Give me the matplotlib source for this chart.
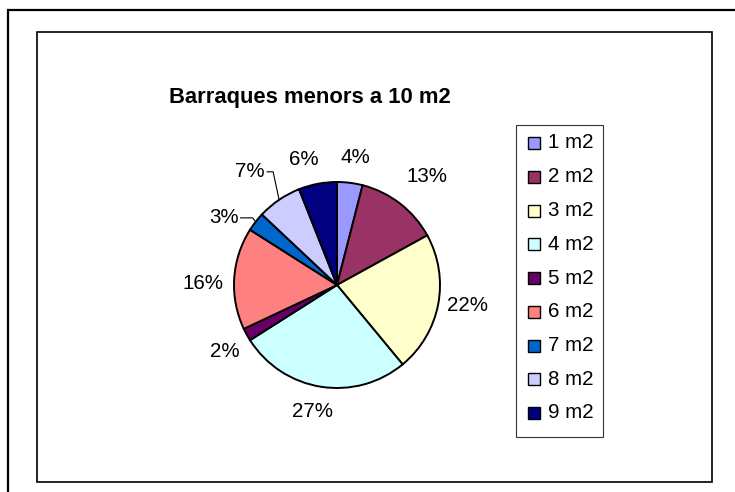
import numpy as np
import matplotlib
matplotlib.use("Agg")
import matplotlib.pyplot as plt
from matplotlib.patches import Rectangle

# ---- data ----
categories = ["1 m2", "2 m2", "3 m2", "4 m2", "5 m2", "6 m2", "7 m2", "8 m2", "9 m2"]
values = [4, 13, 22, 27, 2, 16, 3, 7, 6]
pct_labels = ["4%", "13%", "22%", "27%", "2%", "16%", "3%", "7%", "6%"]
title = "Barraques menors a 10 m2"

# ---- style ----
colors = ["#9999FF", "#993366", "#FFFFCC", "#CCFFFF", "#660066",
          "#FF8080", "#0066CC", "#CCCCFF", "#000080"]
label_dist = [1.25, 1.37, 1.28, 1.25, 1.27, 1.30, 1.30, 1.41, 1.26]
label_dang = [1, 2, -2, 2, -2, -3, -8, -5, -4]   # degrees, clockwise
leaders = {6: (4, 3, 12), 7: (28, 6, 6)}        # rise px, elbow dx, horizontal length

W, H = 735, 492
plt.rcParams['font.family'] = ['Liberation Sans', 'DejaVu Sans']
fig = plt.figure(figsize=(W / 100, H / 100), dpi=100)
ax = fig.add_axes([0, 0, 1, 1])


def Y(y):  # pixel-from-top -> data
    return H - y


cx, cy, R = 337, 285, 103
wedges, _ = ax.pie(values, colors=colors, startangle=90, counterclock=False,
                   center=(cx, Y(cy)), radius=R,
                   wedgeprops=dict(edgecolor="black", linewidth=1.4))
ax.set_xlim(0, W)
ax.set_ylim(0, H)
ax.set_aspect("equal")
ax.axis("off")

fs = 14.8
for i, w in enumerate(wedges):
    mid = 0.5 * (w.theta1 + w.theta2)  # degrees CCW from +x
    ang = np.deg2rad(mid - label_dang[i])
    if i in leaders:
        rise, edx, hlen = leaders[i]
        ex, ey = cx + R * np.cos(np.deg2rad(mid)), Y(cy) + R * np.sin(np.deg2rad(mid))
        ty = ey + rise
        elx = ex - edx
        x_end = elx - hlen
        ax.plot([ex, elx, x_end], [ey, ty, ty], color="black", lw=0.8)
        ax.text(x_end - 2, ty, pct_labels[i], ha="right", va="center",
                fontsize=fs, color="black")
    else:
        tx = cx + label_dist[i] * R * np.cos(ang)
        ty = Y(cy) + label_dist[i] * R * np.sin(ang)
        ax.text(tx, ty, pct_labels[i], ha="center", va="center",
                fontsize=fs, color="black")

# title
ax.text(310, Y(97), title, ha="center", va="center", fontsize=15.8,
        fontweight="bold", color="black")

# frames
ax.add_patch(Rectangle((8, Y(500)), 740, 490, fill=False, ec="black", lw=1.6,
                       clip_on=False))
ax.add_patch(Rectangle((37.5, Y(481.5)), 712.3 - 37.5, 481.5 - 31.5, fill=False,
                       ec="black", lw=1.2))

# legend
lx0, ly0, lx1, ly1 = 516, 125, 603, 437
ax.add_patch(Rectangle((lx0, Y(ly1)), lx1 - lx0, ly1 - ly0, fill=False,
                       ec="#333333", lw=0.8))
for i, (c, name) in enumerate(zip(colors, categories)):
    yc = 143 + i * 33.75
    ax.add_patch(Rectangle((528, Y(yc + 6)), 12, 12, fc=c, ec="black", lw=1.0))
    ax.text(548, Y(yc), name, ha="left", va="center", fontsize=fs, color="black")

fig.savefig("out.png", dpi=100)
